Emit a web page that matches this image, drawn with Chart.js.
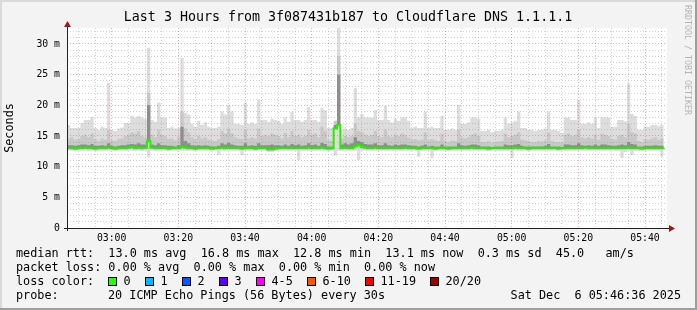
<!DOCTYPE html>
<html>
<head>
<meta charset="utf-8">
<title>Last 3 Hours from 3f087431b187 to Cloudflare DNS 1.1.1.1</title>
<script src="https://cdn.jsdelivr.net/npm/chart.js@4.4.1/dist/chart.umd.min.js"></script>
<style>
  html, body { margin: 0; padding: 0; background: #f3f3f3; }
  canvas { display: block; }
</style>
</head>
<body>
<canvas id="smoke" width="697" height="310"></canvas>
<script>
// graph window: 3 hours, one sample per minute starting at startTime
const startTime = '02:46:36';
const rangeMinutes = 180;
const timeLabels = ['03:00', '03:20', '03:40', '04:00', '04:20', '04:40', '05:00', '05:20', '05:40'];
const yTickValues = [0, 5, 10, 15, 20, 25, 30];
const yTickLabels = ['0', '5 m', '10 m', '15 m', '20 m', '25 m', '30 m'];
const yMax = 32.6;

// smoke: slowest ping of each step (ms)
const smokeMax = [
  16.8, 16.3, 16.3, 16.3, 17.1, 17.6, 17.6, 18.1, 16.3, 16.0,
  16.5, 16.3, 23.6, 16.0, 15.8, 16.2, 16.4, 17.1, 17.1, 18.3,
  18.0, 18.3, 18.0, 17.8, 29.4, 17.6, 17.3, 20.4, 18.0, 18.0,
  16.3, 16.5, 16.2, 16.3, 27.7, 18.8, 18.5, 17.0, 16.5, 17.5,
  16.8, 17.2, 16.5, 16.3, 16.3, 16.5, 19.0, 18.5, 20.1, 19.0,
  17.0, 17.0, 16.8, 20.4, 17.0, 17.2, 17.0, 20.9, 17.6, 17.6,
  17.3, 17.8, 17.6, 17.5, 17.0, 18.0, 17.3, 18.9, 17.6, 17.6,
  17.3, 17.6, 19.7, 17.6, 17.6, 17.3, 19.5, 19.2, 16.3, 16.3,
  16.5, 32.6, 16.0, 16.2, 16.0, 16.3, 22.8, 18.0, 18.6, 18.0,
  18.0, 18.0, 19.2, 17.6, 17.6, 19.9, 17.6, 17.2, 17.8, 17.5,
  18.0, 18.0, 17.5, 16.3, 16.5, 16.3, 16.3, 19.0, 16.3, 16.5,
  16.3, 16.3, 18.3, 16.0, 16.0, 16.2, 16.0, 20.1, 17.0, 17.0,
  17.2, 18.0, 18.0, 17.8, 15.8, 15.8, 16.0, 15.6, 15.8, 15.8,
  16.0, 18.0, 17.0, 17.2, 17.5, 19.0, 16.3, 16.3, 16.0, 16.0,
  15.8, 16.0, 16.0, 16.2, 19.0, 16.0, 16.0, 15.8, 15.5, 18.0,
  18.0, 17.6, 17.6, 20.9, 17.0, 17.0, 17.2, 17.0, 18.0, 16.3,
  18.0, 18.0, 18.0, 16.5, 16.5, 17.6, 17.6, 17.4, 23.6, 18.6,
  18.3, 16.0, 16.0, 16.5, 16.5, 16.8, 16.8, 16.6, 16.8, 16.8
];

// smoke: upper edge of the denser middle pings (ms)
const smokeMid = [
  14.6, 14.8, 14.4, 14.5, 15.0, 15.2, 14.8, 15.4, 14.5, 14.2,
  14.6, 14.4, 16.0, 14.3, 14.2, 14.5, 14.6, 15.0, 15.2, 15.6,
  15.4, 15.8, 15.0, 14.8, 22.0, 15.2, 14.8, 16.0, 15.2, 15.0,
  14.5, 14.6, 14.3, 14.8, 19.0, 16.2, 15.6, 14.8, 14.5, 15.0,
  14.6, 14.8, 14.4, 14.3, 14.2, 14.5, 15.8, 15.4, 16.2, 15.5,
  14.8, 14.6, 14.5, 16.0, 14.6, 14.8, 14.6, 16.2, 15.0, 15.2,
  15.0, 15.4, 15.2, 15.0, 14.6, 15.5, 14.8, 15.8, 15.0, 15.2,
  14.8, 15.0, 16.0, 15.2, 15.4, 14.8, 16.5, 15.8, 14.3, 14.2,
  17.5, 28.0, 14.6, 15.0, 14.8, 15.0, 17.0, 15.8, 15.6, 15.2,
  15.0, 15.2, 15.8, 15.0, 14.8, 16.0, 15.0, 14.8, 15.2, 15.0,
  15.4, 15.2, 14.8, 14.4, 14.5, 14.3, 14.4, 15.6, 14.3, 14.5,
  14.3, 14.2, 15.4, 14.2, 14.0, 14.3, 14.2, 16.0, 14.8, 14.6,
  14.8, 15.2, 15.4, 15.0, 14.0, 14.0, 14.2, 13.9, 14.0, 14.1,
  14.2, 15.4, 14.8, 15.0, 15.2, 15.6, 14.4, 14.3, 14.2, 14.0,
  14.0, 14.2, 14.1, 14.3, 15.6, 14.2, 14.0, 14.0, 13.9, 15.2,
  15.4, 15.0, 15.2, 16.0, 14.8, 14.6, 14.8, 14.6, 15.2, 14.4,
  15.4, 15.2, 15.0, 14.5, 14.4, 15.0, 15.2, 14.8, 17.0, 15.6,
  15.4, 14.2, 14.0, 14.5, 14.4, 14.6, 14.8, 14.4, 14.6, 14.6
];

// smoke: upper edge of the pings closest to the median (ms)
const smokeCore = [
  13.5, 13.5, 13.4, 13.5, 13.6, 13.6, 13.5, 13.7, 13.4, 13.4,
  13.5, 13.4, 13.8, 13.4, 13.3, 13.4, 13.5, 13.5, 13.6, 13.7,
  13.6, 13.8, 13.6, 13.6, 20.0, 13.6, 13.5, 13.8, 13.5, 13.5,
  13.4, 13.4, 13.3, 13.5, 16.5, 14.2, 13.8, 13.5, 13.4, 13.5,
  13.4, 13.5, 13.4, 13.3, 13.3, 13.4, 13.8, 13.6, 13.9, 13.6,
  13.5, 13.4, 13.4, 13.8, 13.4, 13.5, 13.4, 13.8, 13.5, 13.5,
  13.5, 13.6, 13.5, 13.5, 13.4, 13.6, 13.4, 13.7, 13.5, 13.6,
  13.4, 13.5, 13.8, 13.5, 13.6, 13.4, 13.9, 13.7, 13.3, 13.3,
  16.8, 25.0, 13.6, 13.8, 13.6, 13.8, 14.8, 14.2, 14.0, 13.7,
  13.6, 13.6, 13.8, 13.5, 13.5, 13.8, 13.5, 13.4, 13.6, 13.5,
  13.6, 13.6, 13.5, 13.4, 13.4, 13.3, 13.4, 13.6, 13.3, 13.4,
  13.3, 13.3, 13.6, 13.3, 13.3, 13.3, 13.3, 13.8, 13.5, 13.4,
  13.5, 13.6, 13.6, 13.5, 13.3, 13.3, 13.3, 13.2, 13.3, 13.3,
  13.3, 13.6, 13.5, 13.5, 13.6, 13.7, 13.4, 13.3, 13.3, 13.3,
  13.3, 13.3, 13.3, 13.4, 13.7, 13.3, 13.3, 13.3, 13.2, 13.6,
  13.6, 13.5, 13.5, 13.8, 13.5, 13.4, 13.5, 13.4, 13.6, 13.4,
  13.6, 13.6, 13.5, 13.4, 13.4, 13.5, 13.6, 13.5, 14.0, 13.7,
  13.6, 13.3, 13.3, 13.4, 13.4, 13.4, 13.5, 13.4, 13.4, 13.4
];

// median rtt of each step (ms)
const medianRtt = [
  13.0, 13.0, 12.9, 13.0, 13.0, 13.1, 13.0, 13.0, 12.9, 13.0,
  13.0, 13.0, 13.1, 13.0, 12.9, 13.0, 13.0, 13.0, 13.1, 13.2,
  13.0, 13.1, 13.0, 13.1, 14.2, 13.1, 13.0, 13.0, 13.0, 13.0,
  12.9, 13.0, 13.0, 13.0, 13.2, 13.1, 13.0, 13.0, 12.9, 13.0,
  13.0, 13.0, 13.0, 12.9, 13.0, 13.0, 13.1, 13.0, 13.1, 13.0,
  13.0, 13.0, 12.9, 13.0, 13.0, 13.0, 12.9, 13.0, 13.0, 13.0,
  12.8, 12.8, 12.9, 13.0, 13.0, 13.0, 13.0, 13.0, 13.0, 13.0,
  13.0, 13.0, 13.1, 13.0, 13.0, 13.0, 13.1, 13.0, 12.9, 13.0,
  16.2, 16.8, 13.0, 13.1, 13.0, 13.0, 13.3, 13.5, 13.2, 13.1,
  13.0, 13.0, 13.1, 13.0, 13.0, 13.0, 13.0, 13.0, 13.0, 13.0,
  13.0, 13.1, 13.0, 13.0, 13.0, 12.9, 13.0, 13.0, 13.0, 13.0,
  12.9, 13.0, 13.0, 13.0, 12.9, 13.0, 13.0, 13.0, 13.0, 13.0,
  13.0, 13.1, 13.0, 13.0, 13.0, 13.0, 12.9, 13.0, 13.0, 13.0,
  13.0, 13.0, 13.0, 13.0, 13.1, 13.0, 13.0, 13.0, 12.9, 13.0,
  13.0, 13.0, 13.0, 13.0, 13.0, 13.0, 13.0, 12.9, 13.0, 13.0,
  13.0, 13.0, 13.0, 13.0, 13.0, 13.1, 13.0, 13.0, 13.0, 13.0,
  13.0, 13.0, 13.0, 13.0, 13.0, 13.0, 13.0, 13.0, 13.1, 13.0,
  13.0, 13.0, 12.9, 13.0, 13.0, 13.0, 13.0, 13.0, 13.0, 13.1
];

// smoke: fastest ping of each step (ms)
const smokeMin = [
  12.6, 12.6, 12.5, 12.6, 12.6, 12.6, 12.5, 12.6, 12.5, 12.6,
  12.6, 12.6, 12.6, 12.6, 12.5, 12.6, 12.6, 12.6, 12.6, 12.6,
  12.6, 12.6, 12.5, 12.6, 11.6, 12.6, 12.6, 12.6, 12.6, 12.6,
  12.5, 12.6, 12.6, 12.6, 12.6, 12.6, 12.6, 12.6, 12.5, 12.6,
  12.6, 12.6, 12.6, 12.5, 12.6, 11.9, 12.6, 12.6, 12.6, 12.6,
  12.6, 12.6, 11.9, 12.6, 12.6, 12.6, 12.5, 12.6, 12.6, 12.6,
  12.4, 12.4, 12.5, 12.6, 12.6, 12.6, 12.6, 12.6, 12.6, 11.1,
  12.6, 12.6, 12.6, 12.6, 12.6, 12.6, 12.6, 12.6, 12.5, 12.6,
  11.8, 12.6, 12.6, 12.6, 12.6, 12.6, 12.6, 11.1, 12.6, 12.6,
  12.6, 12.6, 12.6, 12.6, 12.6, 12.6, 12.6, 12.6, 12.6, 12.6,
  12.6, 12.6, 12.6, 12.6, 12.6, 11.6, 12.6, 12.6, 12.6, 11.4,
  12.5, 12.6, 12.6, 12.6, 12.5, 12.6, 12.6, 12.6, 12.6, 12.6,
  12.6, 12.6, 12.6, 12.6, 12.6, 12.6, 12.5, 12.6, 12.6, 12.6,
  12.6, 12.6, 12.6, 11.4, 12.6, 12.6, 12.6, 12.6, 12.5, 12.6,
  12.6, 12.6, 12.6, 12.6, 12.6, 12.6, 12.6, 12.5, 12.6, 12.6,
  12.6, 12.6, 12.6, 12.6, 12.6, 12.6, 12.6, 12.6, 12.6, 12.6,
  12.6, 12.6, 12.6, 12.6, 12.6, 12.6, 11.4, 12.4, 12.6, 11.9,
  12.6, 12.6, 12.5, 12.6, 12.6, 12.6, 12.6, 12.6, 11.6, 12.6
];

const titleText = 'Last 3 Hours from 3f087431b187 to Cloudflare DNS 1.1.1.1';
const rttLine = 'median rtt:  13.0 ms avg  16.8 ms max  12.8 ms min  13.1 ms now  0.3 ms sd  45.0   am/s';
const lossLine = 'packet loss: 0.00 % avg  0.00 % max  0.00 % min  0.00 % now';
const lossLabels = ['0', '1', '2', '3', '4-5', '6-10', '11-19', '20/20'];
const lossColors = ['#26ff00', '#00b8ff', '#0059ff', '#5e00ff', '#ff00ff', '#ff5500', '#ff0000', '#a10000'];
const probeText = '20 ICMP Echo Pings (56 Bytes) every 30s';
const dateText = 'Sat Dec  6 05:46:36 2025';

const MONO = '"DejaVu Sans Mono", monospace';

function clockToMinutes(s) {
    const p = s.split(':').map(Number);
    return p[0] * 60 + p[1] + (p[2] || 0) / 60;
}
const startMin = clockToMinutes(startTime);

function points(values) {
    return values.map((v, i) => ({ x: i, y: v }));
}

// 5 minute grid, labelled every 20 minutes
const gridMinutes = [];
for (let m = Math.ceil(startMin / 5) * 5; m < startMin + rangeMinutes; m += 5) {
    gridMinutes.push(m - startMin);
}

function band(label, values, target, color, order) {
    return {
        label: label,
        data: points(values),
        stepped: true,
        fill: target === null ? false : { target: target },
        backgroundColor: color,
        borderColor: 'rgba(0,0,0,0)',
        borderWidth: 0,
        pointRadius: 0,
        order: order
    };
}

const rrdFrame = {
    id: 'rrdFrame',
    beforeDraw(chart) {
        const { ctx, chartArea: a, width: w, height: h } = chart;
        ctx.save();
        ctx.fillStyle = '#f3f3f3';
        ctx.fillRect(0, 0, w, h);
        ctx.fillStyle = '#dadada';
        ctx.fillRect(0, 0, w, 2);
        ctx.fillRect(0, 0, 2, h);
        ctx.fillStyle = '#9e9e9e';
        ctx.fillRect(0, h - 2, w, 2);
        ctx.fillRect(w - 2, 0, 2, h);
        ctx.fillStyle = '#ffffff';
        ctx.fillRect(a.left, a.top, a.right - a.left, a.bottom - a.top);
        ctx.restore();
    },
    afterDraw(chart) {
        const { ctx, chartArea: a } = chart;
        ctx.save();

        // axes and arrows
        ctx.strokeStyle = '#202020';
        ctx.lineWidth = 1;
        ctx.beginPath();
        ctx.moveTo(a.left - 3, a.bottom + 0.5);
        ctx.lineTo(a.right + 3, a.bottom + 0.5);
        ctx.moveTo(a.left + 0.5, a.bottom + 3);
        ctx.lineTo(a.left + 0.5, a.top - 3);
        ctx.stroke();
        ctx.fillStyle = '#a01818';
        ctx.beginPath();
        ctx.moveTo(a.right + 2, a.bottom - 3);
        ctx.lineTo(a.right + 8, a.bottom + 0.5);
        ctx.lineTo(a.right + 2, a.bottom + 4);
        ctx.fill();
        ctx.beginPath();
        ctx.moveTo(a.left - 3, a.top - 1);
        ctx.lineTo(a.left + 0.5, a.top - 7);
        ctx.lineTo(a.left + 4, a.top - 1);
        ctx.fill();

        // title
        ctx.fillStyle = '#000';
        ctx.textBaseline = 'middle';
        ctx.textAlign = 'center';
        ctx.font = '13.3px ' + MONO;
        ctx.fillText(titleText, 348, 18);

        // vertical axis title
        ctx.save();
        ctx.translate(10, 128);
        ctx.rotate(-Math.PI / 2);
        ctx.font = '11.8px ' + MONO;
        ctx.fillText('Seconds', 0, 0);
        ctx.restore();

        // watermark
        ctx.save();
        ctx.translate(687, 5);
        ctx.rotate(Math.PI / 2);
        ctx.textAlign = 'left';
        ctx.fillStyle = '#b4b4b4';
        ctx.font = '8.3px ' + MONO;
        ctx.fillText('RRDTOOL / TOBI OETIKER', 0, 0);
        ctx.restore();

        // legend
        ctx.textAlign = 'left';
        ctx.font = '11.8px ' + MONO;
        ctx.fillText(rttLine, 16, 254);
        ctx.fillText(lossLine, 16, 268);
        ctx.fillText('loss color:', 16, 282);
        const boxX = [108, 145, 182, 219, 256, 307, 365, 430];
        lossLabels.forEach((lab, i) => {
            ctx.fillStyle = lossColors[i];
            ctx.fillRect(boxX[i], 277, 9, 9);
            ctx.strokeStyle = '#000';
            ctx.strokeRect(boxX[i] + 0.5, 277.5, 8, 8);
            ctx.fillStyle = '#000';
            ctx.fillText(lab, boxX[i] + 15.5, 282);
        });
        ctx.fillText('probe:', 16, 296);
        ctx.fillText(probeText, 108, 296);
        ctx.textAlign = 'right';
        ctx.fillText(dateText, 681, 296);
        ctx.restore();
    }
};

const minorGrid = 'rgba(140,140,140,0.38)';
const majorGrid = 'rgba(230,60,60,0.42)';

new Chart(document.getElementById('smoke'), {
    type: 'line',
    data: {
        datasets: [
            band('min', smokeMin, null, 'rgba(0,0,0,0)', 10),
            band('max', smokeMax, 0, '#dddddd', 9),
            band('median base', medianRtt, null, 'rgba(0,0,0,0)', 10),
            band('mid', smokeMid, 2, '#c8c8c8', 8),
            band('core', smokeCore, 2, '#8e8e8e', 7),
            {
                label: 'median rtt',
                data: points(medianRtt),
                stepped: true,
                fill: false,
                borderColor: '#26f000',
                borderWidth: 2,
                pointRadius: 0,
                order: 1
            }
        ]
    },
    options: {
        responsive: false,
        animation: false,
        events: [],
        layout: { padding: { left: 0, top: 28, right: 30, bottom: 0 } },
        plugins: {
            legend: { display: false },
            tooltip: { enabled: false }
        },
        scales: {
            x: {
                type: 'linear',
                min: 0,
                max: rangeMinutes,
                afterFit: s => { s.height = 82; },
                afterBuildTicks: s => { s.ticks = gridMinutes.map(v => ({ value: v })); },
                grid: {
                    z: 1,
                    drawTicks: false,
                    color: c => {
                        const m = Math.round(startMin + c.tick.value);
                        return m % 20 === 0 ? majorGrid : minorGrid;
                    }
                },
                border: { display: false, dash: [1, 2] },
                ticks: {
                    autoSkip: false,
                    maxRotation: 0,
                    padding: 5,
                    color: '#000',
                    font: { family: MONO, size: 9.8 },
                    callback: v => {
                        const lab = timeLabels.find(l => Math.abs(clockToMinutes(l) - startMin - v) < 0.01);
                        return lab || '';
                    }
                }
            },
            y: {
                min: 0,
                max: yMax,
                afterFit: s => { s.width = 67; },
                afterBuildTicks: s => { s.ticks = s.ticks.filter(t => Number.isInteger(t.value)); },
                grid: {
                    z: 1,
                    drawTicks: false,
                    color: c => (c.tick.value % 5 === 0 ? majorGrid : minorGrid)
                },
                border: { display: false, dash: [1, 2] },
                ticks: {
                    stepSize: 1,
                    includeBounds: false,
                    autoSkip: false,
                    padding: 7,
                    color: '#000',
                    font: { family: MONO, size: 9.8 },
                    callback: v => {
                        const k = yTickValues.indexOf(v);
                        return k >= 0 ? yTickLabels[k] : '';
                    }
                }
            }
        }
    },
    plugins: [rrdFrame]
});
</script>
</body>
</html>
